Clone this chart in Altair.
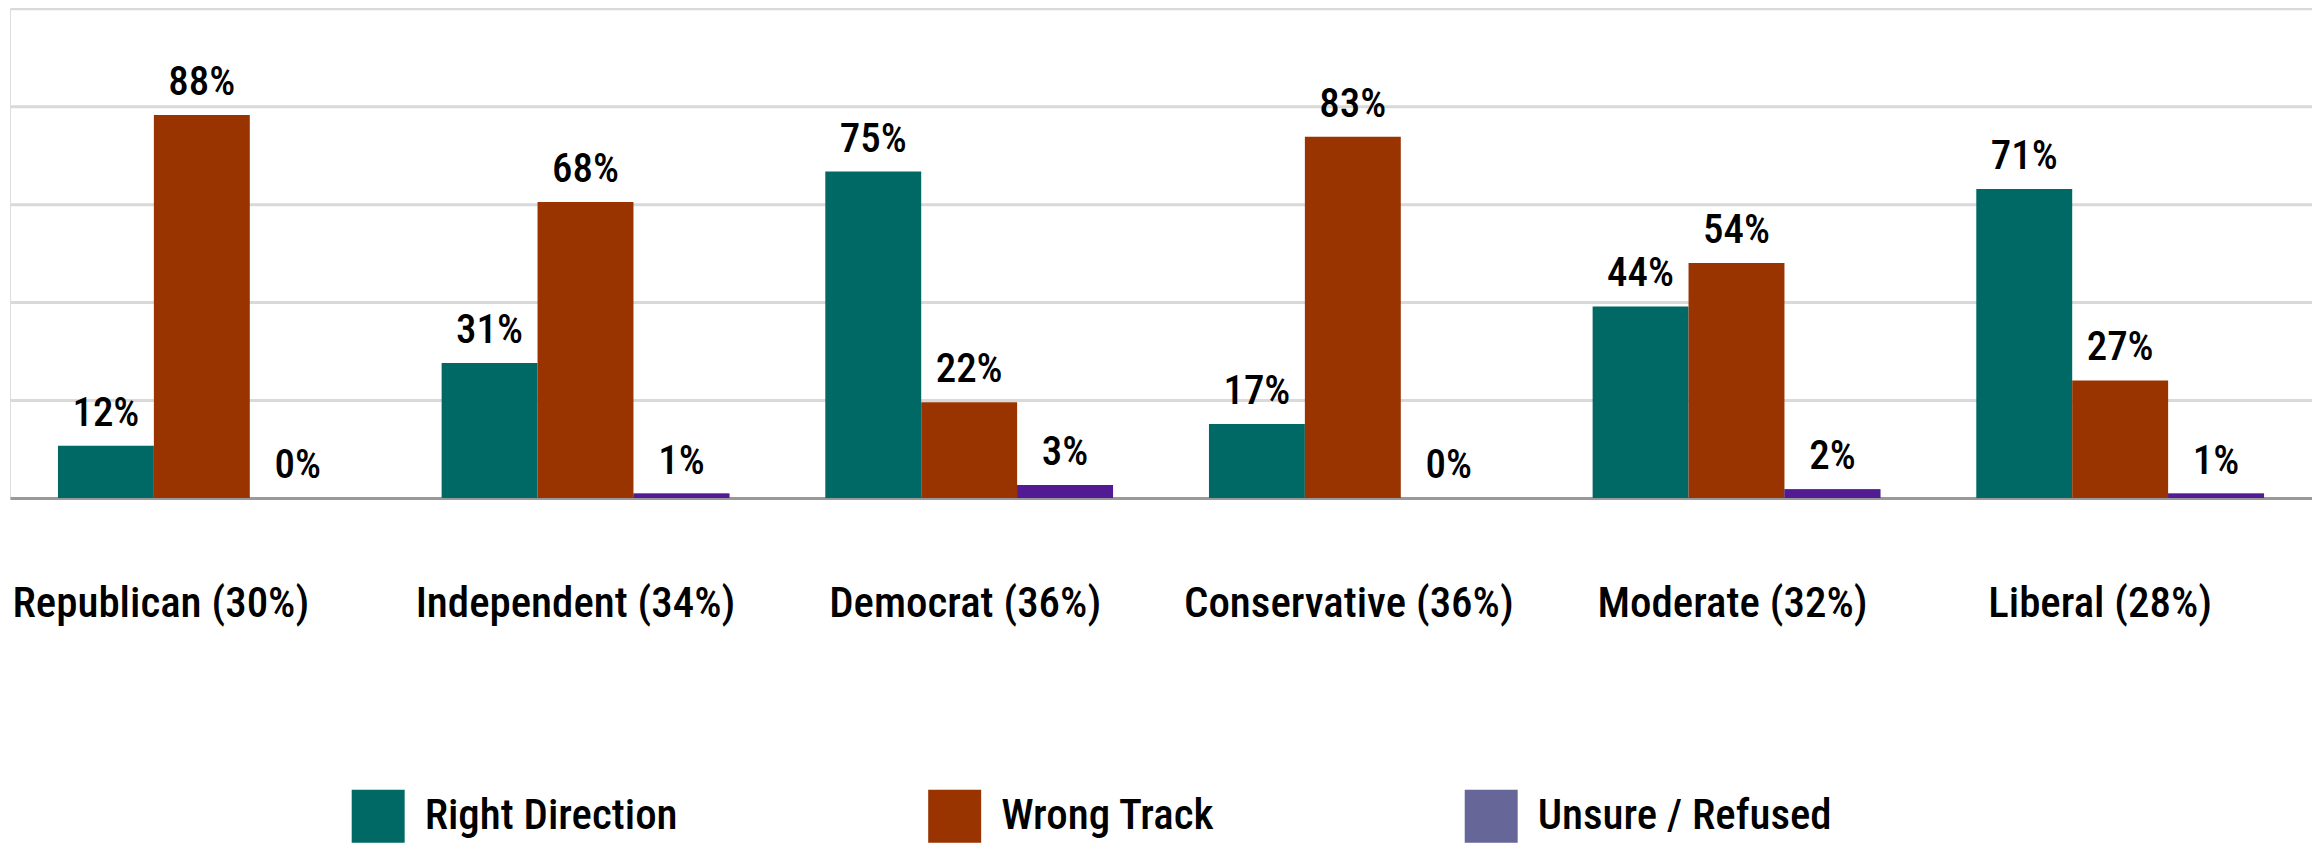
import altair as alt
import pandas as pd

groups = ["Republican (30%)", "Independent (34%)", "Democrat (36%)",
          "Conservative (36%)", "Moderate (32%)", "Liberal (28%)"]
series = ["Right Direction", "Wrong Track", "Unsure / Refused"]
right_direction = [12, 31, 75, 17, 44, 71]
wrong_track = [88, 68, 22, 83, 54, 27]
unsure = [0, 1, 3, 0, 2, 1]
legend_colors = ["#006966", "#993300", "#666699"]
unsure_bar_color = "#521b93"
y_ticks = [0, 22.5, 45, 67.5, 90, 112.5]

rows = []
for i, g in enumerate(groups):
    for s, vals in zip(series, [right_direction, wrong_track, unsure]):
        rows.append({"group": g, "series": s, "value": vals[i], "label": f"{vals[i]}%"})
df = pd.DataFrame(rows)

FONT = "Roboto Condensed, DejaVu Sans Condensed, sans-serif"

label_offset = {
    "condition": [
        {"test": f"datum.value === '{groups[0]}'", "value": -41},
        {"test": f"datum.value === '{groups[1]}'", "value": -10},
        {"test": f"datum.value === '{groups[5]}'", "value": -20},
    ],
    "value": -4,
}

x = alt.X("group:N", sort=groups,
          scale=alt.Scale(paddingInner=0.25, paddingOuter=0.125),
          axis=alt.Axis(title=None, labelAngle=0, ticks=False, domain=True,
                        domainColor="#999999", domainWidth=3, grid=False,
                        labelFont=FONT, labelFontSize=43, labelFontWeight=500,
                        labelColor="#000000", labelOffset=label_offset,
                        labelBaseline="alphabetic", labelPadding=119,
                        labelLimit=600))
xo = alt.XOffset("series:N", sort=series,
                 scale=alt.Scale(paddingInner=0, paddingOuter=0))
y = alt.Y("value:Q", scale=alt.Scale(domain=[0, 112.5], nice=False, zero=True),
          axis=alt.Axis(values=y_ticks, labels=False, ticks=False, domain=False,
                        title=None, grid=True, gridColor="#d9d9d9", gridWidth=3))

base = alt.Chart(df)

bars = base.mark_bar(opacity=1).encode(
    x=x, xOffset=xo, y=y,
    color=alt.Color("series:N", sort=series,
                    scale=alt.Scale(domain=series, range=legend_colors),
                    legend=alt.Legend(title=None, orient="none", legendX=342, legendY=782,
                                      direction="horizontal", columns=3,
                                      symbolType="square", symbolSize=2809,
                                      symbolStrokeWidth=0, symbolOpacity=1,
                                      labelFont=FONT, labelFontSize=43,
                                      labelFontWeight=500,
                                      labelColor="#000000", labelOffset=20,
                                      columnPadding=250, labelLimit=600, padding=0)),
)

unsure_bars = base.transform_filter(alt.datum.series == "Unsure / Refused").mark_bar(
    color=unsure_bar_color, opacity=1).encode(x=x, xOffset=xo, y=y)

labels = base.mark_text(dy=-20, baseline="alphabetic", font=FONT, fontSize=41,
                        fontWeight=500, color="#000000").encode(
    x=x, xOffset=xo, y=y, text="label:N")

chart = alt.layer(bars, unsure_bars, labels).properties(
    width=2304, height=490,
    padding={"left": 2, "top": 0, "right": 0, "bottom": 0},
).configure_view(fill="#ececec", stroke=None).configure(background="#ffffff")

chart.save("out.html", embed_options={"renderer": "svg", "actions": False})
